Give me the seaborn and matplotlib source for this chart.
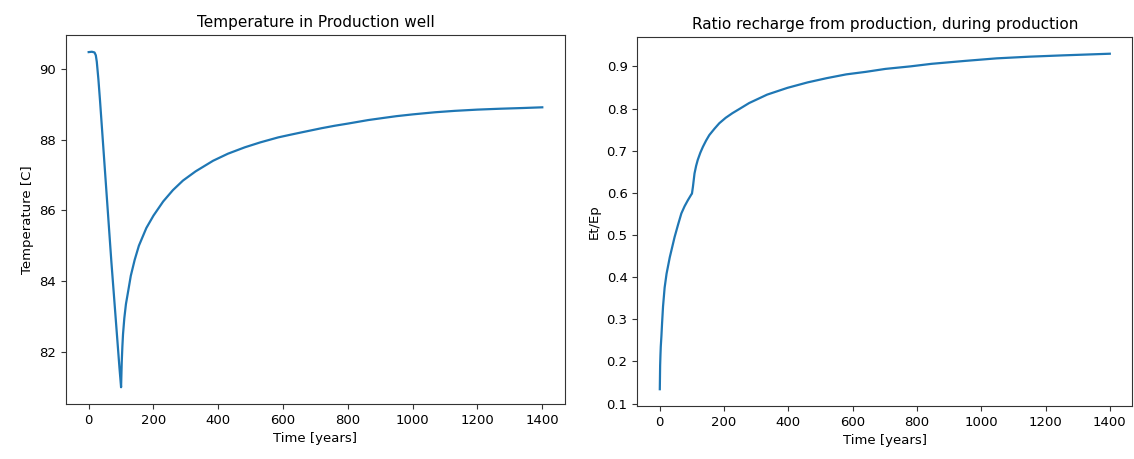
import matplotlib
matplotlib.use("Agg")
import matplotlib.pyplot as plt
import seaborn as sns
import pandas as pd

# Left panel: temperature in production well
temp_time = [0, 10, 18, 22, 25, 30, 35, 40, 45, 50, 55, 60, 65, 70, 75, 80, 85, 90, 95,
             100, 102, 104, 106, 110, 115, 122, 130, 142, 155, 178, 200, 230, 260, 291,
             330, 384, 430, 482, 530, 585, 620, 656, 719, 760, 800, 863, 910, 950, 1000,
             1069, 1130, 1200, 1270, 1340, 1400]
temp_values = [90.47, 90.48, 90.46, 90.38, 90.2, 89.7, 89.1, 88.45, 87.8, 87.15, 86.5,
               85.85, 85.2, 84.55, 83.95, 83.35, 82.75, 82.15, 81.55,
               81.0, 81.7, 82.15, 82.5, 82.95, 83.35, 83.72, 84.15, 84.6, 85.0, 85.5,
               85.85, 86.25, 86.57, 86.84, 87.1, 87.40, 87.6, 87.78, 87.92, 88.06, 88.13,
               88.20, 88.32, 88.39, 88.45, 88.55, 88.61, 88.66, 88.71,
               88.77, 88.81, 88.845, 88.87, 88.89, 88.91]

# Right panel: ratio recharge / production
ratio_time = [0, 1, 2, 3, 5, 7, 10, 15, 21, 31, 46, 57, 67, 77, 87, 98, 100, 103, 108,
              113, 118, 126, 134, 144, 154, 170, 185, 205, 226, 250, 278, 334, 397, 460,
              519, 580, 641, 702, 780, 845, 950, 1048, 1150, 1250, 1400]
ratio_values = [0.134, 0.19, 0.215, 0.235, 0.26, 0.29, 0.33, 0.375, 0.408, 0.447, 0.495,
                0.525, 0.551, 0.568, 0.582, 0.596, 0.598, 0.614, 0.646,
                0.664, 0.678, 0.695, 0.709, 0.724, 0.737, 0.752, 0.765, 0.778, 0.789,
                0.80, 0.813, 0.833, 0.849, 0.862, 0.872, 0.881, 0.887, 0.894, 0.900,
                0.906, 0.913, 0.919, 0.923, 0.926, 0.930]

titles = ["Temperature in Production well", "Ratio recharge from production, during production"]
xlabel = "Time [years]"
ylabels = ["Temperature [C]", "Et/Ep"]

plt.rcParams['font.family'] = ['DejaVu Sans']
fig = plt.figure(figsize=(11.34, 4.59), dpi=100)
ax1 = fig.add_axes([0.0582, 0.1198, 0.440, 0.804])
ax2 = fig.add_axes([0.562, 0.1155, 0.4365, 0.804])

df1 = pd.DataFrame({"t": temp_time, "v": temp_values})
df2 = pd.DataFrame({"t": ratio_time, "v": ratio_values})

for ax, df, title, yl in [(ax1, df1, titles[0], ylabels[0]), (ax2, df2, titles[1], ylabels[1])]:
    sns.lineplot(data=df, x="t", y="v", ax=ax, color="#1f77b4", linewidth=1.6)
    ax.set_title(title, fontsize=11)
    ax.set_xlabel(xlabel, fontsize=9.5)
    ax.set_ylabel(yl, fontsize=9.5)
    ax.tick_params(labelsize=9.5, color="#333333")
    ax.set_xticks([0, 200, 400, 600, 800, 1000, 1200, 1400])
    for s in ax.spines.values():
        s.set_color("#333333")

ax1.set_yticks([82, 84, 86, 88, 90])
ax2.set_yticks([0.1, 0.2, 0.3, 0.4, 0.5, 0.6, 0.7, 0.8, 0.9])

fig.savefig("out.png", dpi=100)
